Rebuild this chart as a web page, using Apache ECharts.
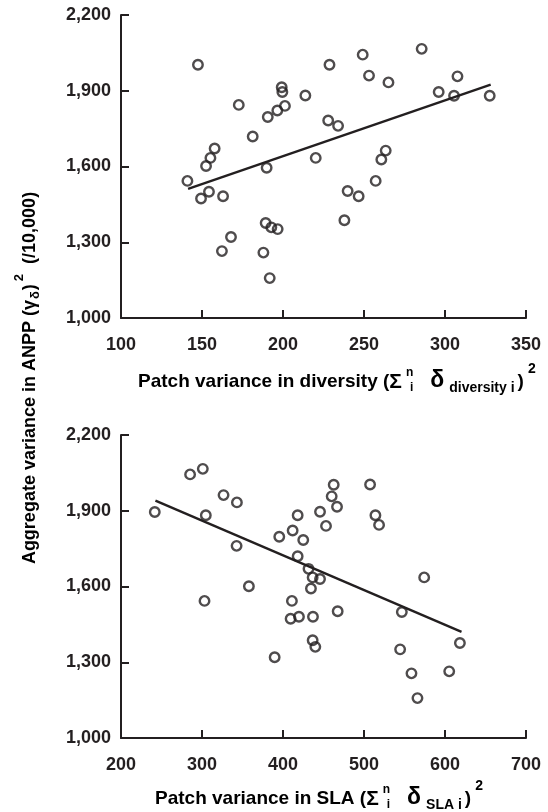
<!DOCTYPE html>
<html>
<head>
<meta charset="utf-8">
<script src="https://cdn.jsdelivr.net/npm/echarts@6/dist/echarts.min.js"></script>
<style>
html, body { margin: 0; padding: 0; background: #fff; }
#chart { width: 548px; height: 812px; }
</style>
</head>
<body>
<div id="chart"></div>
<script>
// top panel: patch variance in diversity vs aggregate variance in ANPP
var divX = [147.5, 172.7, 199.2, 199.6, 213.8, 190.6, 196.5, 201.2, 181.3, 157.8, 155.2, 152.5, 189.9, 220.2,
    228.7, 227.9, 234, 249.2, 253.1, 265.1, 285.6, 307.7, 296.1, 305.6, 327.6, 263.4, 260.7, 257.2, 239.9,
    246.7, 237.9, 141, 154.3, 149.4, 163, 167.9, 162.3, 189.3, 192.8, 196.7, 187.9, 191.8];
var divY = [2003, 1844, 1914, 1895, 1881, 1796, 1822, 1840, 1719, 1671, 1634, 1602, 1595, 1634,
    2003, 1782, 1761, 2043, 1960, 1933, 2066, 1957, 1895, 1880, 1880, 1663, 1628, 1543, 1503,
    1482, 1387, 1543, 1500, 1473, 1482, 1321, 1265, 1376, 1359, 1352, 1259, 1158];
var divFitX = [141.4, 328.2];
var divFitY = [1511, 1924];

// bottom panel: patch variance in SLA
var slaX = [241.7, 285.3, 301, 304.7, 326.6, 343.1, 342.7, 395.4, 411.9, 418.1, 425, 418.1, 431.5, 445.7,
    453.1, 462.6, 460.1, 466.7, 507.5, 514.1, 518.6, 436.6, 445.7, 434.5, 303.1, 357.9, 411, 409.4,
    419.7, 437, 436.6, 439.9, 389.7, 574.3, 467.5, 546.7, 618.4, 544.6, 558.6, 605.2, 566];
var slaY = [1895, 2044, 2066, 1882, 1962, 1933, 1761, 1797, 1822, 1882, 1784, 1720, 1670, 1896,
    1840, 2003, 1957, 1916, 2004, 1882, 1844, 1636, 1630, 1592, 1543, 1601, 1543, 1472,
    1480, 1480, 1387, 1361, 1320, 1636, 1502, 1499, 1376, 1351, 1256, 1264, 1158];
var slaFitX = [242.5, 620.4];
var slaFitY = [1940, 1420];

// axis ranges
var divTicks = [100, 150, 200, 250, 300, 350];
var slaTicks = [200, 300, 400, 500, 600, 700];
var anppTicks = [1000, 1300, 1600, 1900, 2200];

var ink = '#231f20';
var fam = "'Liberation Sans', Arial, Helvetica, sans-serif";

function pairs(xs, ys) {
    return xs.map(function (x, i) { return [x, ys[i]]; });
}
function commas(v) {
    return String(v).replace(/\B(?=(\d{3})+(?!\d))/g, ',');
}
function xAxisFor(idx, ticks) {
    return {
        type: 'value', gridIndex: idx,
        min: ticks[0], max: ticks[ticks.length - 1], interval: ticks[1] - ticks[0],
        axisLine: { show: true, onZero: false, lineStyle: { color: ink, width: 2 } },
        axisTick: { show: true, inside: true, length: 8, lineStyle: { color: ink, width: 2 } },
        axisLabel: { color: ink, fontSize: 18, fontWeight: 'bold', fontFamily: fam, margin: 18 },
        splitLine: { show: false }
    };
}
function yAxisFor(idx) {
    return {
        type: 'value', gridIndex: idx,
        min: anppTicks[0], max: anppTicks[anppTicks.length - 1], interval: anppTicks[1] - anppTicks[0],
        axisLine: { show: true, onZero: false, lineStyle: { color: ink, width: 2 } },
        axisTick: { show: true, inside: true, length: 8, lineStyle: { color: ink, width: 2 } },
        axisLabel: { color: ink, fontSize: 18, fontWeight: 'bold', fontFamily: fam, margin: 10, formatter: commas },
        splitLine: { show: false }
    };
}
function dots(idx, xs, ys) {
    return {
        type: 'scatter', xAxisIndex: idx, yAxisIndex: idx,
        symbol: 'circle', symbolSize: 9.5,
        itemStyle: { color: 'rgba(255,255,255,0)', borderColor: ink, borderWidth: 2.4 },
        data: pairs(xs, ys)
    };
}
function fit(idx, xs, ys) {
    return {
        type: 'line', xAxisIndex: idx, yAxisIndex: idx,
        showSymbol: false, symbol: 'none',
        lineStyle: { color: ink, width: 2.4 },
        data: pairs(xs, ys)
    };
}

function txt(size, extra) {
    var s = { fontSize: size, fontWeight: 'bold', fontFamily: fam, color: ink };
    for (var k in extra) s[k] = extra[k];
    return s;
}
// x-axis titles
var rich = {
    t: txt(19, {}),
    S: txt(21, {}),
    d: txt(23, { padding: [0, 0, 2, 9] }),
    sn: txt(12, { padding: [0, 0, 18, 4], width: 4, align: 'left' }),
    si: txt(12, { padding: [12, 8, 0, 0] }),
    sd: txt(14, { padding: [12, 3, 0, 5] }),
    s2: txt(14, { padding: [0, 0, 26, 4] })
};
// shared y-axis title
var yRich = {
    t: txt(18, {}),
    sd: txt(13, { padding: [10, 1, 0, 1] }),
    s2: txt(13, { padding: [0, 0, 22, 3] })
};

var chart = echarts.init(document.getElementById('chart'), null, { renderer: 'canvas' });
chart.setOption({
    animation: false,
    backgroundColor: '#fff',
    grid: [
        { left: 121, right: 22, top: 15, height: 303 },
        { left: 121, right: 22, top: 435, height: 303 }
    ],
    xAxis: [xAxisFor(0, divTicks), xAxisFor(1, slaTicks)],
    yAxis: [yAxisFor(0), yAxisFor(1)],
    series: [
        dots(0, divX, divY), fit(0, divFitX, divFitY),
        dots(1, slaX, slaY), fit(1, slaFitX, slaFitY)
    ],
    graphic: [
        {
            type: 'text', x: 138, y: 382,
            style: {
                text: '{t|Patch variance in diversity (}{S|Σ}{sn|n}{si|i}{d|δ}{sd|diversity i}{t|)}{s2|2}',
                rich: rich, align: 'left', verticalAlign: 'middle'
            }
        },
        {
            type: 'text', x: 155, y: 799,
            style: {
                text: '{t|Patch variance in SLA (}{S|Σ}{sn|n}{si|i}{d|δ}{sd|SLA i}{t|)}{s2|2}',
                rich: rich, align: 'left', verticalAlign: 'middle'
            }
        },
        {
            type: 'text', x: 30, y: 378, rotation: Math.PI / 2,
            style: {
                text: '{t|Aggregate variance in ANPP (γ}{sd|δ}{t|)}{s2|2}{t|  (/10,000)}',
                rich: yRich, align: 'center', verticalAlign: 'middle'
            }
        }
    ]
});
</script>
</body>
</html>
